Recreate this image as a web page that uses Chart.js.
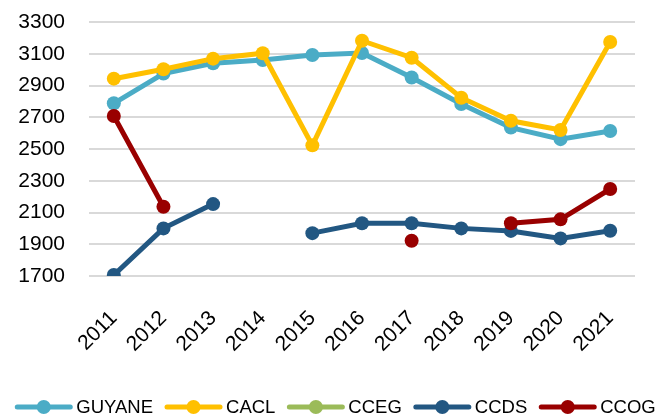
<!DOCTYPE html>
<html lang="fr">
<head>
<meta charset="UTF-8">
<script src="https://cdn.jsdelivr.net/npm/chart.js"></script>
<style>
  html, body { margin: 0; padding: 0; background: #fff; }
  #cadre { width: 658px; height: 416px; position: relative; }
</style>
</head>
<body>
<div id="cadre"><canvas id="graphique"></canvas></div>
<script>
// Années et séries
const annees = ['2011', '2012', '2013', '2014', '2015', '2016', '2017', '2018', '2019', '2020', '2021'];
const guyane = [2788, 2975, 3040, 3060, 3092, 3105, 2950, 2783, 2635, 2562, 2613];
const cacl   = [2943, 3002, 3069, 3103, 2523, 3182, 3075, 2823, 2678, 2620, 3174];
const cceg   = [null, null, null, null, null, null, null, null, null, null, null];
const ccds   = [1706, 2000, 2153, null, 1970, 2032, 2032, 2000, 1984, 1937, 1985];
const ccog   = [2708, 2136, null, null, null, null, 1922, null, 2032, 2057, 2248];
const graduations = [1700, 1900, 2100, 2300, 2500, 2700, 2900, 3100, 3300];

const police = 'Liberation Sans, Arial, sans-serif';
const epaisseur = 5;
const rayon = 7;

function serie(nom, valeurs, couleur, ordre) {
  return {
    label: nom,
    data: valeurs,
    borderColor: couleur,
    backgroundColor: couleur,
    pointBackgroundColor: couleur,
    pointBorderWidth: 0,
    pointRadius: rayon,
    pointHoverRadius: rayon,
    borderWidth: epaisseur,
    tension: 0,
    spanGaps: false,
    order: ordre
  };
}

const series = [
  serie('GUYANE', guyane, '#4BACC6', 5),
  serie('CACL', cacl, '#FFC000', 4),
  serie('CCEG', cceg, '#9BBB59', 3),
  serie('CCDS', ccds, '#225782', 2),
  serie('CCOG', ccog, '#990000', 1)
];

// légende en bas : trait + rond, sur une seule ligne
const legendeBas = {
  id: 'legendeBas',
  afterDraw(chart) {
    const ctx = chart.ctx;
    const trait = 55, ecart = 5, entre = 13;
    ctx.save();
    ctx.font = '18.5px ' + police;
    const items = chart.data.datasets.map(ds => ({
      texte: ds.label, couleur: ds.borderColor, larg: ctx.measureText(ds.label).width
    }));
    const total = items.reduce((s, it) => s + trait + ecart + it.larg, 0) + entre * (items.length - 1);
    let x = (chart.width - total) / 2 + 7;
    const y = 407;
    items.forEach(it => {
      ctx.strokeStyle = it.couleur;
      ctx.lineWidth = epaisseur;
      ctx.lineCap = 'round';
      ctx.beginPath(); ctx.moveTo(x + 1, y); ctx.lineTo(x + trait - 1, y); ctx.stroke();
      ctx.fillStyle = it.couleur;
      ctx.beginPath(); ctx.arc(x + trait / 2, y, rayon, 0, Math.PI * 2); ctx.fill();
      ctx.fillStyle = '#000';
      ctx.textBaseline = 'middle';
      ctx.textAlign = 'left';
      ctx.fillText(it.texte, x + trait + ecart, y + 1);
      x += trait + ecart + it.larg + entre;
    });
    ctx.restore();
  }
};

new Chart(document.getElementById('graphique'), {
  type: 'line',
  data: { labels: annees, datasets: series },
  plugins: [legendeBas],
  options: {
    responsive: true,
    maintainAspectRatio: false,
    animation: false,
    layout: { padding: { left: 0, right: 23, top: 22, bottom: 0 } },
    plugins: {
      tooltip: { enabled: false },
      legend: { display: false }
    },
    scales: {
      x: {
        offset: true,
        grid: { display: false },
        border: { display: false },
        afterFit: axe => { axe.height = 140; axe.paddingTop = 0; },
        ticks: {
          color: '#000',
          font: { family: police, size: 21 },
          maxRotation: 45,
          minRotation: 45,
          autoSkip: false,
          padding: 22
        }
      },
      y: {
        min: graduations[0],
        max: graduations[graduations.length - 1],
        afterBuildTicks: axe => { axe.ticks = graduations.map(v => ({ value: v })); },
        afterFit: axe => { axe.width = 89; axe.paddingTop = 0; axe.paddingBottom = 0; },
        grid: { color: '#D9D9D9', lineWidth: 2, drawTicks: false },
        border: { display: false },
        ticks: {
          color: '#000',
          font: { family: police, size: 21 },
          autoSkip: false,
          padding: 24,
          callback: v => String(v)
        }
      }
    }
  }
});
</script>
</body>
</html>
